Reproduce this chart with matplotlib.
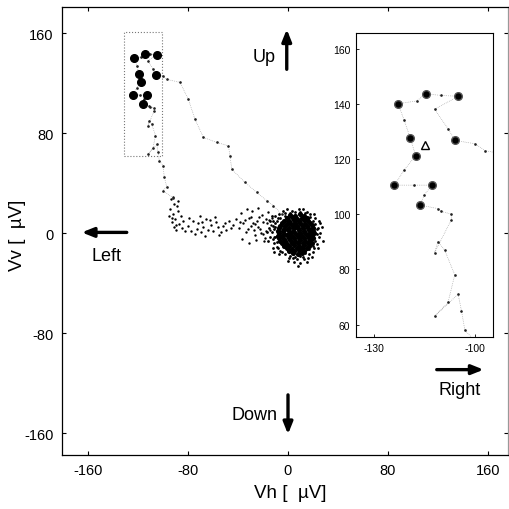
import matplotlib
matplotlib.use("Agg")
import matplotlib.pyplot as plt
from matplotlib.patches import Rectangle

plt.rcParams['font.family'] = ['Liberation Sans', 'DejaVu Sans']
plt.rcParams['axes.unicode_minus'] = False

# ---------------- data ----------------
main_ticks = [-160, -80, 0, 80, 160]
inset_xticks = [-130, -100]
inset_yticks = [60, 80, 100, 120, 140, 160]

# fixation cluster near origin (dense core)
core_x = [2, 6, 10, 13,
          -1, 3, 7, 11, 15,
          -3, 1, 5, 9, 13, 16,
          -5, -1, 2, 6, 10, 14, 18,
          -6, -2, 3, 7, 11, 15, 19,
          -7, -3, 1, 5, 8, 12, 16, 20,
          -8, -4, 0, 4, 9, 13, 17, 20,
          -7, -3, 2, 6, 10, 14, 18, 21,
          -8, -5, -1, 3, 7, 11, 15, 19,
          -7, -3, 1, 5, 9, 13, 17, 20,
          -6, -2, 2, 6, 10, 14, 18,
          -5, -1, 3, 8, 12, 16, 19,
          -3, 1, 5, 9, 13, 17,
          -1, 3, 7, 11, 15,
          1, 5, 9, 13,
          4, 8, 11]
core_y = [14.5, 14, 15, 13.5,
          12, 12.5, 11.5, 12.2, 11.8,
          10, 9.6, 10.4, 9.8, 10.2, 9.5,
          8, 7.6, 8.4, 7.8, 8.2, 7.5, 8.1,
          6, 5.6, 6.3, 5.8, 6.2, 5.7, 6.1,
          4, 3.6, 4.4, 3.8, 4.2, 3.7, 4.1, 3.9,
          2, 1.6, 2.4, 1.8, 2.2, 1.7, 2.1, 1.9,
          0, -0.4, 0.4, -0.2, 0.2, -0.3, 0.1, -0.1,
          -2, -2.4, -1.6, -2.2, -1.8, -2.3, -1.9, -2.1,
          -4, -4.4, -3.6, -4.2, -3.8, -4.3, -3.9, -4.1,
          -6, -6.4, -5.6, -6.2, -5.8, -6.3, -5.9,
          -8, -8.4, -7.6, -8.2, -7.8, -8.3, -7.9,
          -10, -10.4, -9.6, -10.2, -9.8, -10.3,
          -12, -12.4, -11.6, -12.2, -11.8,
          -14, -14.4, -13.6, -14.2,
          -16, -16.4, -15.8]

# scattered points around the fixation cluster
halo_x = [-12, -11, -10, -13, 23, 24, 22, 20, -4, 9, 15, 1, 7, 12, -6,
          -9, 25, 18, -14, 5, 16, -10, 26, -2, 21, 10, -8, 3, -12, 19,
          -10, -11, -10, -9, -8, -5, -2, 2, 6, 10, 14, 17, 20, 22, 23, 23,
          22, 20, 18, 14, 10, 6, 2, -2, -6, -9, -12, -12, -7, 0, 4, 13, 17,
          24, 26, 25, 21, 12, -1, -7, -15, -14, -16, -11, 8, 15, 28, 27,
          -13, -17]
halo_y = [10, -8, 14, 1, -9, 4, 12, -15, 18, 19, 17, -20, -21, -19, -14,
          -11, -3, 15, -3, -23, -20, 5, 8, 16, -12, -24, 12, 18, -12, -19,
          8, 3, -3, -7, -12, -15, -17, -18, -19, -18, -16, -13, -10, -6, -1, 3,
          7, 10, 13, 16, 17, 17, 16, 14, 12, 10, 6, -5, -17, -22, -20, -21, -17,
          -12, 0, 10, 15, 19, 19, 15, 4, 10, -6, -15, -26, -23, -6, 5,
          14, 1]

# drift between fixation and saccade start
drift_x = [-93.5, -90.8, -94.6, -88.7, -92.3, -87.9, -90.2, -85.6, -93.1, -86.8,
           -91.4, -84.7, -89.3, -95.2, -83.9, -91.8, -88.2, -89.9, -92.8,
           -80.3, -77.6, -76.2, -73.1, -71.8, -69.5, -67.9, -65.4, -63.8, -61.2,
           -59.7, -57.4, -55.9, -53.3, -51.6, -49.8, -47.5, -45.7, -43.6, -78.8,
           -70.7, -62.4, -54.8, -66.3, -74.6, -58.3, -50.2, -68.8, -82.1,
           -41.7, -39.2, -37.9, -35.6, -33.8, -31.5, -29.7, -28.4, -26.1, -24.6,
           -22.3, -20.8, -18.5, -16.9, -14.2, -12.7, -36.8, -30.9, -23.7, -19.4,
           -27.2, -33.1, -15.6, -38.7, -21.4, -11.3, -13.5, -17.2, -29.3, -25.5,
           -34.6, -31.8, -27.9, -24.2, -20.1, -17.7, -14.9, -22.8, -26.6, -19.8]
drift_y = [27.2, 23.5, 19.1, 21.8, 15.4, 17.6, 11.3, 13.9, 8.7, 7.2,
           4.9, 3.8, 2.6, 13.3, 9.6, 29.1, 25.4, 6.1, 11.9,
           5.7, 1.9, 9.4, 3.6, 7.7, 0.8, 5.2, 11.6, 2.7, 6.8,
           1.5, 8.9, 4.6, 0.6, 5.8, 2.4, 9.7, 3.9, 6.6, 11.8,
           13.7, 10.5, -1.3, -2.1, -0.9, 12.9, 8.1, 9.2, 1.4,
           11.6, 4.3, 15.8, 7.9, 1.2, 12.4, 5.7, 17.6, -1.8, 9.8,
           3.6, 14.3, -3.7, 7.9, 2.2, 12.1, -4.8, -7.6, 19.7, -6.5,
           2.8, 18.9, 16.8, 8.7, 0.4, -2.9, 6.3, 11.2, 13.1, -5.7,
           10.6, 3.1, 8.4, 5.2, 9.1, 1.7, 10.8, 12.7, 6.9, -0.8]

# saccade trajectory samples
path_x = [-92, -100, -97, -99, -100, -103, -104, -105, -112, -108, -106, -109,
          -111, -112, -107, -107, -110, -111, -116.3, -115, -112.8, -118,
          -123.9, -121, -117.6, -119.2, -121, -122.8, -117.3, -114.6, -110,
          -104.9, -112, -108, -105.9, -100, -97, -86.4, -79.7, -74.4, -67.7,
          -57, -47.7, -46.4, -45, -34.4, -25, -17, -11.7, -5]
path_y = [28, 34, 37, 45, 54, 58, 65, 71, 63, 68, 78, 87,
          90, 86, 98, 100, 101, 102, 103.3, 107, 110.5, 110.5,
          110.5, 116, 121.2, 127.6, 134, 140, 141, 143.6, 143,
          142.7, 138, 131, 126.7, 125.5, 123, 120.5, 107, 91, 76.5,
          72.5, 69.8, 61.9, 51, 40.5, 32.5, 25.9, 21.9, 15]

# fixation dots during the saccade target period
dots_x = [-114.6, -104.9, -122.8, -119.2, -105.9, -117.6, -123.9, -112.8, -116.3]
dots_y = [143.6, 142.7, 140, 127.6, 126.7, 121.2, 110.5, 110.5, 103.3]

# mean position (triangle)
mean_x = [-114.9]
mean_y = [125.2]

# zoom box region
box_x = [-131.5, -101]
box_y = [62, 160.5]

# ---------------- figure ----------------
W = H = 510
fig = plt.figure(figsize=(5.1, 5.1), dpi=100)

def fx(px):
    return px / W

def fy(py):
    return 1 - py / H

L, R, T, B = 62, 508, 8.3, 456
ax = fig.add_axes([fx(L), fy(B), (R - L) / W, (B - T) / H])
ax.set_xlim(-180.8, 176)
ax.set_ylim(-177.6, 180.6)

ax.scatter(drift_x, drift_y, s=3, c='black', linewidths=0, zorder=2)
ax.scatter(halo_x, halo_y, s=4, c='black', linewidths=0, zorder=2)
ax.scatter(core_x, core_y, s=14, c='black', linewidths=0, zorder=2)
ax.plot(path_x, path_y, ls=':', lw=0.5, color='#999999', zorder=2)
ax.plot(path_x, path_y, ls='none', marker='.', ms=1.8, color='#222222', zorder=3)
ax.plot(dots_x, dots_y, ls='none', marker='o', ms=5.5, color='black', zorder=4)
ax.add_patch(Rectangle((box_x[0], box_y[0]), box_x[1] - box_x[0], box_y[1] - box_y[0],
                       fill=False, ls=':', lw=0.8, ec='#777777', zorder=1))

ax.set_xticks(main_ticks)
ax.set_yticks(main_ticks)
ax.set_xticklabels([str(t) for t in main_ticks])
ax.set_yticklabels([str(t) for t in main_ticks])
ax.tick_params(direction='in', length=3, width=0.8, labelsize=10.5,
               top=True, right=True, pad=6)
for sp in ax.spines.values():
    sp.set_linewidth(0.9)
ax.spines['right'].set_color('#999999')

# direction arrows
aprops = dict(arrowstyle='-|>,head_length=0.7,head_width=0.28', lw=2.4, color='black',
              shrinkA=0, shrinkB=0)
ax.annotate('', xy=(-1, 163), xytext=(-1, 131), arrowprops=aprops)
ax.annotate('', xy=(0, -161), xytext=(0, -129.5), arrowprops=aprops)
ax.annotate('', xy=(-165, 0.5), xytext=(-129, 0.5), arrowprops=aprops)
ax.annotate('', xy=(156.5, -109.3), xytext=(119, -109.3), arrowprops=aprops,
            annotation_clip=False)
ax.text(-10, 141.5, 'Up', ha='right', va='center', fontsize=13)
ax.text(-8, -145, 'Down', ha='right', va='center', fontsize=13)
ax.text(-145.5, -18, 'Left', ha='center', va='center', fontsize=13)
ax.text(137, -125, 'Right', ha='center', va='center', fontsize=13)

fig.text(fx(290), fy(494), 'Vh [  \u00b5V]', ha='center', va='center', fontsize=13.5)
fig.text(fx(18), fy(235), 'Vv [  \u00b5V]', ha='center', va='center', fontsize=13.5,
         rotation=90)

# ---------------- inset ----------------
iL, iR, iT, iB = 356, 493.5, 33.5, 338
axi = fig.add_axes([fx(iL), fy(iB), (iR - iL) / W, (iB - iT) / H])
axi.set_xlim(-135.3, -94.5)
axi.set_ylim(55.5, 165.8)
axi.plot(path_x, path_y, ls=':', lw=0.5, color='#999999', zorder=2)
axi.plot(path_x, path_y, ls='none', marker='.', ms=1.8, color='#222222', zorder=3)
axi.plot(dots_x, dots_y, ls='none', marker='o', ms=5.5, color='black',
         mec='#555555', zorder=4)
axi.plot(mean_x, mean_y, ls='none', marker='^', ms=6, mfc='white', mec='black',
         mew=1.0, zorder=5)
axi.set_xticks(inset_xticks)
axi.set_yticks(inset_yticks)
axi.set_xticklabels([str(t) for t in inset_xticks])
axi.set_yticklabels([str(t) for t in inset_yticks])
axi.tick_params(direction='in', length=2, width=0.6, labelsize=7.5, pad=4)
for sp in axi.spines.values():
    sp.set_linewidth(0.8)

fig.savefig('out.png', dpi=100)
